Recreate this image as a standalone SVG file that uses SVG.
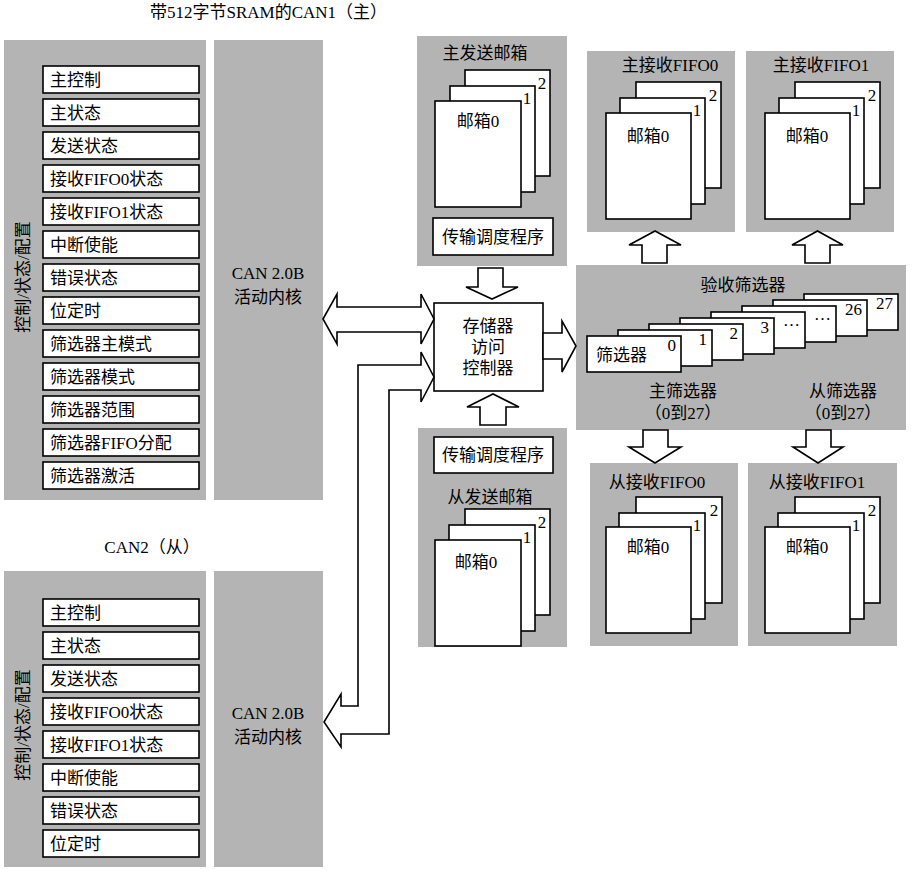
<svg xmlns="http://www.w3.org/2000/svg" width="915" height="871" viewBox="0 0 915 871">
<style>
text{font-family:"Liberation Serif","Noto Sans CJK SC",serif;font-size:17px;fill:#000}
.m{text-anchor:middle}
.e{text-anchor:end}
.n{font-size:17px}
.p{fill:#b4b4b4;stroke:none}
.b{fill:#fff;stroke:#000;stroke-width:1.6}
.a{fill:#fff;stroke:#000;stroke-width:1.6;stroke-linejoin:miter}
</style>
<rect width="915" height="871" fill="#fff"/>

<text x="150" y="18">带512字节SRAM的CAN1（主）</text>

<g id="can1-regs">
<rect class="p" x="4" y="40" width="202" height="460"/>
<text class="m" transform="translate(29,277) rotate(-90)">控制/状态/配置</text>
<rect class="b" x="43" y="66" width="156" height="27"/><text x="50" y="86">主控制</text>
<rect class="b" x="43" y="99" width="156" height="27"/><text x="50" y="119">主状态</text>
<rect class="b" x="43" y="132" width="156" height="27"/><text x="50" y="152">发送状态</text>
<rect class="b" x="43" y="165" width="156" height="27"/><text x="50" y="185">接收FIFO0状态</text>
<rect class="b" x="43" y="198" width="156" height="27"/><text x="50" y="218">接收FIFO1状态</text>
<rect class="b" x="43" y="231" width="156" height="27"/><text x="50" y="251">中断使能</text>
<rect class="b" x="43" y="264" width="156" height="27"/><text x="50" y="284">错误状态</text>
<rect class="b" x="43" y="297" width="156" height="27"/><text x="50" y="317">位定时</text>
<rect class="b" x="43" y="330" width="156" height="27"/><text x="50" y="350">筛选器主模式</text>
<rect class="b" x="43" y="363" width="156" height="27"/><text x="50" y="383">筛选器模式</text>
<rect class="b" x="43" y="396" width="156" height="27"/><text x="50" y="416">筛选器范围</text>
<rect class="b" x="43" y="429" width="156" height="27"/><text x="50" y="449">筛选器FIFO分配</text>
<rect class="b" x="43" y="462" width="156" height="27"/><text x="50" y="482">筛选器激活</text>
</g>

<g id="can1-core">
<rect class="p" x="214" y="40" width="109" height="460"/>
<text class="m" x="268" y="279">CAN 2.0B</text>
<text class="m" x="268" y="303">活动内核</text>
</g>

<text class="m" x="152" y="553">CAN2（从）</text>

<g id="can2-regs">
<rect class="p" x="4" y="571" width="202" height="296"/>
<text class="m" transform="translate(29,725) rotate(-90)">控制/状态/配置</text>
<rect class="b" x="43" y="599" width="156" height="27"/><text x="50" y="619">主控制</text>
<rect class="b" x="43" y="632" width="156" height="27"/><text x="50" y="652">主状态</text>
<rect class="b" x="43" y="665" width="156" height="27"/><text x="50" y="685">发送状态</text>
<rect class="b" x="43" y="698" width="156" height="27"/><text x="50" y="718">接收FIFO0状态</text>
<rect class="b" x="43" y="731" width="156" height="27"/><text x="50" y="751">接收FIFO1状态</text>
<rect class="b" x="43" y="764" width="156" height="27"/><text x="50" y="784">中断使能</text>
<rect class="b" x="43" y="797" width="156" height="27"/><text x="50" y="817">错误状态</text>
<rect class="b" x="43" y="830" width="156" height="27"/><text x="50" y="850">位定时</text>
</g>

<g id="can2-core">
<rect class="p" x="214" y="571" width="109" height="296"/>
<text class="m" x="268" y="719">CAN 2.0B</text>
<text class="m" x="268" y="743">活动内核</text>
</g>

<g id="master-tx">
<rect class="p" x="417" y="36" width="150" height="230"/>
<text class="m" x="485" y="59">主发送邮箱</text>
<rect class="b" x="465" y="70" width="85" height="106"/><text class="m n" x="542" y="89">2</text>
<rect class="b" x="450" y="86" width="85" height="106"/><text class="m n" x="527" y="104">1</text>
<rect class="b" x="435" y="101" width="86" height="106"/><text class="m" x="478" y="127">邮箱0</text>
<rect class="b" x="433" y="218" width="120" height="37"/><text class="m" x="493" y="243">传输调度程序</text>
</g>

<g id="master-fifo0">
<rect class="p" x="587" y="51" width="148" height="181"/>
<text class="m" x="670" y="71">主接收FIFO0</text>
<rect class="b" x="636" y="82" width="85" height="106"/><text class="m n" x="713" y="101">2</text>
<rect class="b" x="620" y="98" width="85" height="106"/><text class="m n" x="697" y="116">1</text>
<rect class="b" x="606" y="113" width="85" height="106"/><text class="m" x="648" y="142">邮箱0</text>
</g>

<g id="master-fifo1">
<rect class="p" x="746" y="51" width="148" height="181"/>
<text class="m" x="821" y="71">主接收FIFO1</text>
<rect class="b" x="795" y="82" width="85" height="106"/><text class="m n" x="872" y="101">2</text>
<rect class="b" x="779" y="98" width="85" height="106"/><text class="m n" x="856" y="116">1</text>
<rect class="b" x="765" y="113" width="85" height="106"/><text class="m" x="807" y="142">邮箱0</text>
</g>

<g id="mem-ctrl">
<rect class="b" x="434" y="303" width="109" height="88"/>
<text class="m" x="488" y="332">存储器</text>
<text class="m" x="488" y="353">访问</text>
<text class="m" x="488" y="374">控制器</text>
</g>

<g id="acceptance-filter">
<rect class="p" x="576" y="265" width="330" height="165"/>
<text class="m" x="743" y="291">验收筛选器</text>
<rect class="b" x="804" y="294" width="94" height="36"/><text class="e n" x="893" y="309">27</text>
<rect class="b" x="773" y="300" width="94" height="36"/><text class="e n" x="862" y="315">26</text>
<rect class="b" x="742" y="306" width="94" height="36"/><text class="e n" x="831" y="320">…</text>
<rect class="b" x="711" y="312" width="94" height="36"/><text class="e n" x="800" y="326">…</text>
<rect class="b" x="680" y="318" width="94" height="36"/><text class="e n" x="769" y="333">3</text>
<rect class="b" x="649" y="324" width="94" height="36"/><text class="e n" x="738" y="339">2</text>
<rect class="b" x="618" y="330" width="94" height="36"/><text class="e n" x="707" y="345">1</text>
<rect class="b" x="587" y="336" width="94" height="36"/><text class="e n" x="676" y="351">0</text>
<text x="596" y="361">筛选器</text>
<text class="m" x="683" y="397">主筛选器</text>
<text class="m" x="683" y="419">（0到27）</text>
<text class="m" x="843" y="397">从筛选器</text>
<text class="m" x="843" y="419">（0到27）</text>
</g>

<g id="slave-tx">
<rect class="p" x="418" y="428" width="149" height="219"/>
<rect class="b" x="434" y="437" width="119" height="36"/><text class="m" x="493" y="461">传输调度程序</text>
<text class="m" x="490" y="503">从发送邮箱</text>
<rect class="b" x="465" y="509" width="85" height="106"/><text class="m n" x="542" y="528">2</text>
<rect class="b" x="449" y="525" width="86" height="106"/><text class="m n" x="527" y="543">1</text>
<rect class="b" x="435" y="540" width="86" height="106"/><text class="m" x="476" y="568">邮箱0</text>
</g>

<g id="slave-fifo0">
<rect class="p" x="590" y="463" width="148" height="183"/>
<text class="m" x="657" y="488">从接收FIFO0</text>
<rect class="b" x="636" y="497" width="86" height="106"/><text class="m n" x="714" y="516">2</text>
<rect class="b" x="619" y="513" width="86" height="106"/><text class="m n" x="697" y="531">1</text>
<rect class="b" x="606" y="527" width="85" height="106"/><text class="m" x="648" y="553">邮箱0</text>
</g>

<g id="slave-fifo1">
<rect class="p" x="748" y="463" width="149" height="183"/>
<text class="m" x="817" y="488">从接收FIFO1</text>
<rect class="b" x="795" y="497" width="85" height="106"/><text class="m n" x="872" y="516">2</text>
<rect class="b" x="778" y="513" width="86" height="106"/><text class="m n" x="856" y="531">1</text>
<rect class="b" x="765" y="527" width="85" height="106"/><text class="m" x="807" y="553">邮箱0</text>
</g>

<g id="connectors">
<polygon class="a" points="323,319 337,294 337,307 421,307 421,294 434,319 421,344 421,332 337,332 337,344"/>
<polygon class="a" points="478,268 503,268 503,287 518,287 492,299 466,287 478,287"/>
<polygon class="a" points="480,425 480,407 467,407 493,394 519,407 506,407 506,425"/>
<polygon class="a" points="543,333 562,333 562,321 576,346 562,372 562,359 543,359"/>
<polygon class="a" points="642,263 642,245 629,245 655,231 681,245 667,245 667,263"/>
<polygon class="a" points="805,263 805,245 792,245 817.5,231 843,245 830,245 830,263"/>
<polygon class="a" points="643,430 668,430 668,447 681,447 655,463 629,447 643,447"/>
<polygon class="a" points="806,430 831,430 831,447 843,447 818,463 793,447 806,447"/>
<polygon class="a" points="434,377 421,352 421,365 358,365 358,706 341,706 341,694 324,722 341,747 341,734 389,734 389,390 421,390 421,402"/>
</g>
</svg>
